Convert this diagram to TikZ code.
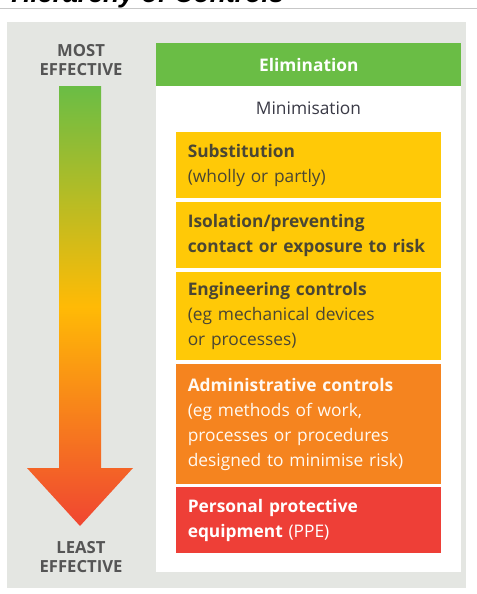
\documentclass[tikz,border=0pt]{standalone}
\usepackage{fontspec}
\setmainfont{Open Sans}
\newfontfamily\headfont{Liberation Sans}
\definecolor{panelgray}{HTML}{E4E6E2}
\definecolor{elimgreen}{HTML}{6ABD45}
\definecolor{ctrlyellow}{HTML}{FFC907}
\definecolor{ctrlorange}{HTML}{F5841F}
\definecolor{ctrlred}{HTML}{EE3F37}
\definecolor{darktext}{HTML}{4A4634}
\definecolor{effgray}{HTML}{555555}
\definecolor{minimtext}{HTML}{3A3A46}
\begin{document}
\begin{tikzpicture}[
  x=0.75pt, y=-0.75pt,
  every node/.style={font=\fontsize{13}{18.75}\selectfont},
  level/.style={anchor=north west, align=left, text width=181.5pt, inner xsep=8.625pt, inner ysep=0pt, minimum width=198.75pt},
  effect/.style={align=center, text=effgray, font=\fontsize{12.5}{14.25}\selectfont\bfseries}
]
  \useasboundingbox (0,0) rectangle (477,594);
  \node[anchor=base west, inner sep=0pt, font=\fontsize{20}{24}\selectfont\headfont\bfseries\itshape] (title) at (11,2) {Hierarchy of Controls};
  \draw[black!22] (0,8) -- (477,8);
  \fill[panelgray] (7,22) rectangle (466,588);
  \fill[white] (156,43) rectangle (461,572);

  \shade[top color=elimgreen, bottom color=ctrlred!90!orange, middle color=ctrlyellow!80!orange]
    (59,86) -- (101,86) -- (101,468) -- (133,468) -- (80,526) -- (27,468) -- (59,468) -- cycle;
  \node[effect] (most) at (81,60) {MOST\\EFFECTIVE};
  \node[effect] (least) at (81,557) {LEAST\\EFFECTIVE};

  \node[anchor=north west, fill=elimgreen, text=white, minimum width=228.75pt, minimum height=32.25pt, inner sep=0pt, font=\fontsize{13}{15}\selectfont\bfseries] (elim) at (156,43) {Elimination};
  \node[text=minimtext] (minim) at (308.5,108) {Minimisation};

  \node[level, fill=ctrlyellow, text=darktext, minimum height=49.5pt] (subst) at (176,132) {\textbf{Substitution}\\(wholly or partly)};
  \node[level, fill=ctrlyellow, text=darktext, minimum height=49.5pt] (isol) at (176,202) {\textbf{Isolation/preventing}\\\textbf{contact or exposure to risk}};
  \node[level, fill=ctrlyellow, text=darktext, minimum height=66pt] (eng) at (176,272) {\textbf{Engineering controls}\\(eg mechanical devices\\or processes)};
  \node[level, fill=ctrlorange, text=white!95!orange, minimum height=90pt] (admin) at (176,364) {\textbf{Administrative controls}\\(eg methods of work,\\processes or procedures\\designed to minimise risk)};
  \node[level, fill=ctrlred, text=white, minimum height=49.5pt] (ppe) at (176,487) {\textbf{Personal protective}\\\textbf{equipment} (PPE)};
\end{tikzpicture}
\end{document}
